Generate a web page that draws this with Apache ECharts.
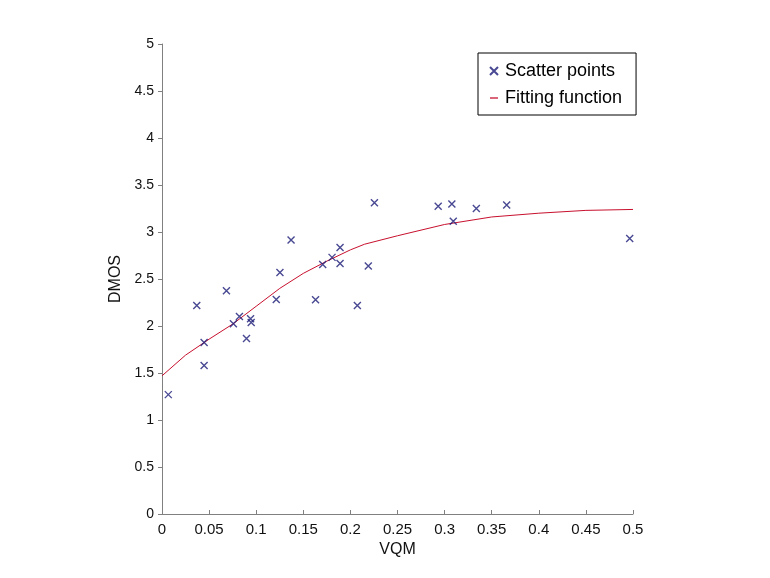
<!DOCTYPE html>
<html lang="en">
<head>
    <meta charset="UTF-8">
    <title>VQM vs DMOS</title>
    <script src="https://cdn.jsdelivr.net/npm/echarts@6/dist/echarts.min.js"></script>
</head>
<body style="margin:0;background:#fff;">
    <div id="main" style="width:770px;height:578px;"></div>
</body>
<script type="text/javascript">
    // scatter points
    var vqm  = [0.0067, 0.0369, 0.0447, 0.0447, 0.0684, 0.0758, 0.0822, 0.0897, 0.094, 0.0947,
                0.1213, 0.1252, 0.137, 0.163, 0.1706, 0.1805, 0.189, 0.189, 0.2074, 0.219,
                0.2255, 0.2932, 0.3077, 0.3092, 0.3337, 0.3659, 0.4965];
    var dmos = [1.27, 2.217, 1.825, 1.58, 2.376, 2.023, 2.10, 1.868, 2.076, 2.037,
                2.281, 2.57, 2.916, 2.28, 2.655, 2.73, 2.836, 2.666, 2.217, 2.638,
                3.312, 3.273, 3.298, 3.114, 3.249, 3.287, 2.93];

    // fitted curve
    var fitX = [0, 0.025, 0.05, 0.075, 0.1, 0.125, 0.15, 0.175, 0.2, 0.215, 0.25, 0.3, 0.35, 0.4, 0.45, 0.5];
    var fitY = [1.47, 1.69, 1.86, 2.02, 2.21, 2.40, 2.56, 2.69, 2.81, 2.87, 2.96, 3.08, 3.16, 3.20, 3.23, 3.24];

    var crossIcon = 'path://M0,0L10,10M10,0L0,10';
    var dashIcon = 'path://M0,0L10,0L10,1.6L0,1.6Z';

    var scatterData = [];
    for (var i = 0; i < vqm.length; i++) {
        scatterData.push([vqm[i], dmos[i]]);
    }
    var fitData = [];
    for (var j = 0; j < fitX.length; j++) {
        fitData.push([fitX[j], fitY[j]]);
    }

    var myChart = echarts.init(document.getElementById('main'));
    var font = 'Liberation Sans, Arial, sans-serif';

    var option = {
        backgroundColor: '#fff',
        animation: false,
        textStyle: { fontFamily: font },
        grid: { left: 162, right: 137, top: 44, bottom: 64 },
        legend: {
            orient: 'vertical',
            left: 478,
            top: 53,
            padding: [9, 14, 8, 11],
            itemGap: 9,
            itemWidth: 8,
            itemHeight: 8,
            borderColor: '#000',
            borderWidth: 1,
            backgroundColor: '#fff',
            textStyle: { fontSize: 18, color: '#000', fontFamily: font, padding: [0, 0, 0, 2] },
            data: [
                { name: 'Scatter points', icon: crossIcon },
                { name: 'Fitting function', icon: dashIcon }
            ]
        },
        xAxis: {
            type: 'value',
            min: 0, max: 0.5, interval: 0.05,
            name: 'VQM',
            nameLocation: 'middle',
            nameGap: 27,
            nameTextStyle: { fontSize: 16, color: '#111' },
            axisLine: { lineStyle: { color: '#808080' } },
            axisTick: { inside: true, length: 4, lineStyle: { color: '#808080' } },
            axisLabel: { fontSize: 15, color: '#111', margin: 8,
                formatter: function (v) { return +v.toFixed(2) + ''; } },
            splitLine: { show: false }
        },
        yAxis: {
            type: 'value',
            min: 0, max: 5, interval: 0.5,
            name: 'DMOS',
            nameLocation: 'middle',
            nameGap: 33,
            nameTextStyle: { fontSize: 16, color: '#111' },
            axisLine: { show: true, lineStyle: { color: '#808080' } },
            axisTick: { show: true, length: 4, lineStyle: { color: '#808080' } },
            axisLabel: { fontSize: 14, color: '#111', margin: 8 },
            splitLine: { show: false }
        },
        series: [
            {
                name: 'Scatter points',
                type: 'scatter',
                data: scatterData,
                symbol: crossIcon,
                symbolSize: 7,
                itemStyle: { color: 'transparent', borderColor: '#1c1c78', borderWidth: 1.4 },
                z: 3
            },
            {
                name: 'Fitting function',
                type: 'line',
                data: fitData,
                showSymbol: false,
                symbol: 'none',
                lineStyle: { color: '#c8102e', width: 1 },
                itemStyle: { color: '#c8102e' },
                z: 2
            }
        ]
    };

    myChart.setOption(option);
</script>
</html>
